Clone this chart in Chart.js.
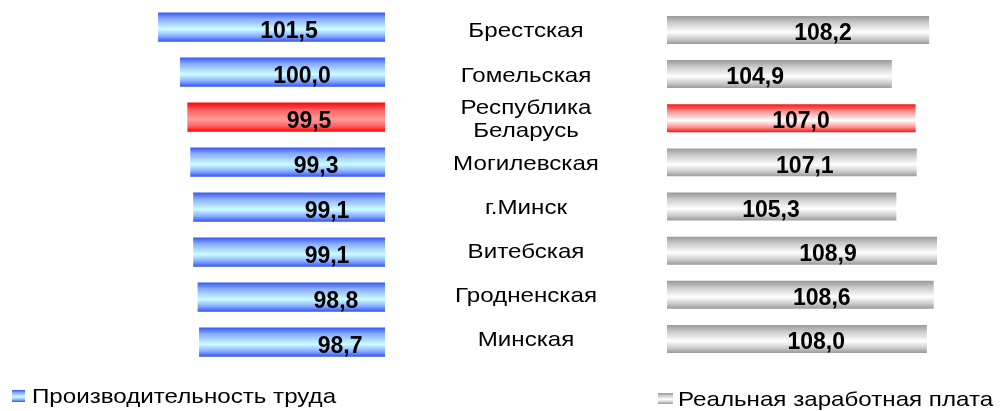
<!DOCTYPE html>
<html><head><meta charset="utf-8">
<script src="https://cdn.jsdelivr.net/npm/chart.js@4.4.1/dist/chart.umd.min.js"></script>
<style>
html,body{margin:0;padding:0;background:#fff;overflow:hidden}
#wrap{position:relative;width:1001px;height:411px}
canvas{position:absolute;left:0;top:0}
</style></head><body>
<div id="wrap"><canvas id="left" width="1001" height="411"></canvas><canvas id="right" width="1001" height="411"></canvas></div>
<script>
// ---- data ----
const categories = ['Брестская','Гомельская','Республика Беларусь','Могилевская','г.Минск','Витебская','Гродненская','Минская'];
const productivity = [101.5, 100.0, 99.5, 99.3, 99.1, 99.1, 98.8, 98.7];
const realWage = [108.2, 104.9, 107.0, 107.1, 105.3, 108.9, 108.6, 108.0];
const seriesNames = ['Производительность труда', 'Реальная заработная плата'];
const highlightCategory = 'Республика Беларусь';
// value-axis position where each value label is centred (as in the original)
const productivityLabelAt = [92.56, 91.67, 91.19, 90.71, 89.96, 89.96, 89.35, 89.07];
const realWageLabelAt = [98.8, 92.8, 96.86, 97.2, 94.2, 99.25, 98.7, 98.2];

// ---- styles ----
const FONT = "'Liberation Sans', Arial, sans-serif";
const CAT_SIZE = 21;
const TEXT_STRETCH = 1.15;
const BLUE = [[0,'#3355ee'],[0.22,'#88aaff'],[0.58,'#ccffff'],[0.82,'#88aaff'],[1,'#3355ee']];
const RED_L = [[0,'#ff0000'],[0.25,'#ff6060'],[0.58,'#ff9a9a'],[0.82,'#ff6060'],[1,'#ff0000']];
const GRAY = [[0,'#999999'],[0.25,'#cccccc'],[0.58,'#ffffff'],[0.82,'#cccccc'],[1,'#999999']];
const RED_R = [[0,'#ff1010'],[0.25,'#ff9090'],[0.58,'#ffffff'],[0.82,'#ff9090'],[1,'#ff1010']];

Chart.defaults.font.family = FONT;

function gradientFill(stopsFor) {
  return (c) => {
    const chart = c.chart, ys = chart.scales.y, area = chart.chartArea;
    const stops = stopsFor(c.dataIndex);
    if (c.type !== 'data' || !ys || !area) return stops[0][1];
    const ds = chart.data.datasets[c.datasetIndex];
    const cat = (area.bottom - area.top) / chart.data.labels.length;
    const th = cat * ds.barPercentage * ds.categoryPercentage;
    const cy = ys.getPixelForValue(c.dataIndex);
    const g = chart.ctx.createLinearGradient(0, cy - th / 2, 0, cy + th / 2);
    stops.forEach(([o, col]) => g.addColorStop(o, col));
    return g;
  };
}

function stretchedText(ctx, text, x, y, align) {
  ctx.save();
  ctx.translate(x, y);
  ctx.scale(TEXT_STRETCH, 1);
  ctx.textAlign = align;
  ctx.fillText(text, 0, 0);
  ctx.restore();
}

function valueLabels(anchors, dy) {
  return {
    id: 'valueLabels',
    afterDatasetsDraw(chart) {
      const meta = chart.getDatasetMeta(0), xs = chart.scales.x, ctx = chart.ctx;
      const data = chart.data.datasets[0].data;
      ctx.save();
      ctx.font = 'bold 23px ' + FONT;
      ctx.fillStyle = '#000';
      ctx.textAlign = 'center';
      ctx.textBaseline = 'alphabetic';
      meta.data.forEach((bar, i) => {
        ctx.fillText(data[i].toFixed(1).replace('.', ','), xs.getPixelForValue(anchors[i]), bar.y + dy);
      });
      ctx.restore();
    }
  };
}

// category names drawn at the category scale's tick positions
const categoryLabels = {
  id: 'categoryLabels',
  afterDraw(chart) {
    const ys = chart.scales.y, ctx = chart.ctx;
    const lineH = 23, capHalf = 7.5, cx = 526;
    ctx.save();
    ctx.font = CAT_SIZE + 'px ' + FONT;
    ctx.fillStyle = '#000';
    ctx.textBaseline = 'alphabetic';
    chart.data.labels.forEach((lab, i) => {
      const lines = lab.includes(' ') ? lab.split(' ') : [lab];
      const cy = ys.getPixelForValue(i);
      lines.forEach((ln, k) => {
        const y = cy + (k - (lines.length - 1) / 2) * lineH + capHalf;
        stretchedText(ctx, ln, cx, y, 'center');
      });
    });
    ctx.restore();
  }
};

function legendMark(x, y, w, h, stops, textX, textY) {
  return {
    id: 'legendMark',
    afterDraw(chart) {
      const ctx = chart.ctx;
      ctx.save();
      const g = ctx.createLinearGradient(0, y, 0, y + h);
      stops.forEach(([o, col]) => g.addColorStop(o, col));
      ctx.fillStyle = g;
      ctx.fillRect(x, y, w, h);
      ctx.fillStyle = '#000';
      ctx.font = CAT_SIZE + 'px ' + FONT;
      ctx.textBaseline = 'alphabetic';
      stretchedText(ctx, chart.data.datasets[0].label, textX, textY, 'left');
      ctx.restore();
    }
  };
}

const isHi = (i) => categories[i] === highlightCategory;

// ---- left chart: productivity (reversed) ----
new Chart(document.getElementById('left'), {
  type: 'bar',
  data: {
    labels: categories,
    datasets: [{
      label: seriesNames[0],
      data: productivity,
      backgroundColor: gradientFill(i => isHi(i) ? RED_L : BLUE),
      borderWidth: 0,
      barPercentage: 0.65,
      categoryPercentage: 1.0
    }]
  },
  options: {
    indexAxis: 'y',
    responsive: false,
    animation: false,
    events: [],
    layout: { padding: { left: 99.5, right: 616, top: 4.5, bottom: 46.5 } },
    scales: {
      x: { type: 'linear', reverse: true, min: 86, max: 105.5, display: false },
      y: { display: false }
    },
    plugins: { legend: { display: false }, tooltip: { enabled: false } }
  },
  plugins: [valueLabels(productivityLabelAt, 11.2), legendMark(12, 390, 13, 12, BLUE, 32, 403)]
});

// ---- right chart: real wage ----
new Chart(document.getElementById('right'), {
  type: 'bar',
  data: {
    labels: categories,
    datasets: [{
      label: seriesNames[1],
      data: realWage,
      backgroundColor: gradientFill(i => isHi(i) ? RED_R : GRAY),
      borderWidth: 0,
      barPercentage: 0.634,
      categoryPercentage: 1.0
    }]
  },
  options: {
    indexAxis: 'y',
    responsive: false,
    animation: false,
    events: [],
    layout: { padding: { left: 667, right: 34.55, top: 7.9, bottom: 50 } },
    scales: {
      x: { type: 'linear', min: 85, max: 111.5, display: false },
      y: { display: false }
    },
    plugins: { legend: { display: false }, tooltip: { enabled: false } }
  },
  plugins: [categoryLabels, valueLabels(realWageLabelAt, 10.2), legendMark(658, 393, 15, 11, GRAY, 678, 406)]
});
</script>
</body></html>
